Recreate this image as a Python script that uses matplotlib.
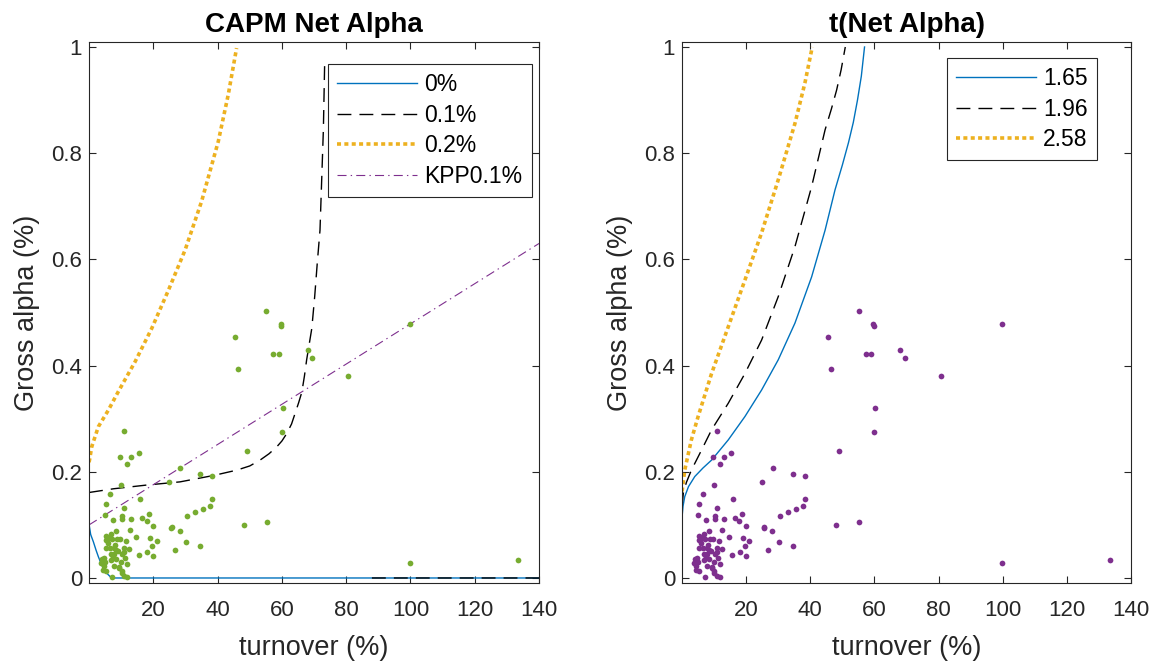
import numpy as np
import matplotlib
matplotlib.use("Agg")
import matplotlib.pyplot as plt

plt.rcParams['font.family'] = ['Liberation Sans', 'DejaVu Sans']
plt.rcParams['lines.scale_dashes'] = False

# ---- scatter data (turnover %, gross alpha %) ----
turnover = [55.1, 59.6, 59.7, 45.4, 57.3, 59.0, 68.1, 69.5, 46.3, 80.7, 60.3, 59.9, 49.0, 99.8, 99.9, 133.3,
            10.9, 9.5, 13.1, 15.4, 11.7, 28.3, 34.5, 38.2, 25.0, 9.9, 6.4, 15.8, 38.3, 5.3, 37.7, 10.8,
            35.4, 33.1, 5.0, 18.6, 30.4, 10.2, 10.3, 13.1, 16.4, 17.9, 7.4, 55.3, 20.0, 48.1, 25.7, 25.5,
            28.2, 12.6, 8.5, 14.7, 19.0, 21.0, 30.3, 34.6, 19.6, 26.8, 15.5, 18.0, 20.0,
            6.7, 5.4, 6.1, 5.4, 7.1, 8.75, 9.6, 11.6, 5.2, 6.5, 7.8, 8.3, 10.8, 12.4, 11.0, 6.7, 7.9,
            7.6, 10.4, 3.96, 4.6, 3.85, 4.9, 6.7, 8.5, 10.0, 11.9, 7.8, 5.4, 4.4, 9.2, 10.1, 7.2, 10.8,
            11.9, 10.1, 9.4, 8.0, 9.0, 6.0, 4.5, 11.2]
gross_alpha = [0.503, 0.478, 0.474, 0.454, 0.421, 0.421, 0.429, 0.414, 0.393, 0.380, 0.320, 0.275, 0.239, 0.478, 0.029, 0.033,
               0.276, 0.227, 0.227, 0.235, 0.215, 0.207, 0.196, 0.192, 0.181, 0.176, 0.158, 0.148, 0.148, 0.139, 0.135, 0.131,
               0.130, 0.124, 0.119, 0.120, 0.116, 0.116, 0.111, 0.111, 0.113, 0.107, 0.109, 0.106, 0.097, 0.099, 0.096, 0.094,
               0.089, 0.090, 0.089, 0.077, 0.076, 0.069, 0.067, 0.060, 0.060, 0.053, 0.044, 0.048, 0.041,
               0.083, 0.079, 0.076, 0.072, 0.074, 0.073, 0.073, 0.070, 0.057, 0.057, 0.056, 0.053, 0.056, 0.054, 0.049, 0.046, 0.046,
               0.040, 0.045, 0.036, 0.038, 0.029, 0.030, 0.034, 0.035, 0.031, 0.026, 0.023, 0.014, 0.015, 0.018, 0.014, 0.0025, 0.004,
               0.0025, 0.009, 0.021, 0.062, 0.050, 0.065, 0.022, 0.038]

# ---- left panel break-even curves ----
net0_x = [0, 0.5, 1.35, 2.2, 2.9, 3.7, 4.45, 5.2, 6.0, 7.0, 140]
net0_y = [0.101, 0.082, 0.068, 0.052, 0.040, 0.028, 0.018, 0.011, 0.006, 0.0, 0.0]

net01_x = [0, 7.6, 17.9, 28.3, 38.7, 45.9, 50, 53.2, 56, 58.4, 60, 61.5, 63, 64.1, 65.2, 66.2, 67.0, 67.7,
           69.3, 70.2, 71.0, 71.85, 72.2, 72.9, 73.3, np.nan, 88, 140]
net01_y = [0.161, 0.168, 0.175, 0.181, 0.193, 0.203, 0.211, 0.222, 0.234, 0.247, 0.258, 0.272, 0.290, 0.310,
           0.330, 0.350, 0.380, 0.411, 0.470, 0.530, 0.593, 0.655, 0.718, 0.844, 0.969, np.nan, 0.0, 0.0]

net02_x = [0, 0.2, 0.83, 2.9, 6.0, 9.1, 14.3, 19.5, 24.7, 29.9, 35.0, 40.2, 43.3, 45.9]
net02_y = [0.218, 0.224, 0.247, 0.285, 0.316, 0.351, 0.407, 0.470, 0.542, 0.618, 0.709, 0.822, 0.910, 0.998]

kpp_x = [0, 140]
kpp_y = [0.1, 0.63]

# ---- right panel t-stat curves ----
t165_x = [0, 0.3, 0.83, 2.0, 3.96, 6.5, 9.2, 14.4, 19.6, 24.8, 30.0, 35.2, 40.4, 44.6, 47.7, 50.0, 51.9,
          53.4, 54.7, 55.9, 56.9]
t165_y = [0.115, 0.135, 0.153, 0.172, 0.191, 0.207, 0.222, 0.260, 0.304, 0.354, 0.411, 0.480, 0.567, 0.655,
          0.731, 0.778, 0.820, 0.858, 0.900, 0.945, 1.0]

t196_x = [0, 0.4, 1.35, 2.9, 6.0, 9.2, 14.4, 19.6, 24.8, 30.0, 35.2, 40.4, 44.6, 46.6, 48.2, 49.6, 50.9]
t196_y = [0.135, 0.160, 0.180, 0.203, 0.240, 0.279, 0.329, 0.385, 0.448, 0.530, 0.624, 0.737, 0.844, 0.884,
          0.919, 0.957, 1.0]

t258_x = [0, 0.83, 2.9, 5.0, 9.2, 14.4, 19.6, 24.8, 30.0, 35.2, 38.3, 40.6]
t258_y = [0.163, 0.203, 0.260, 0.304, 0.385, 0.473, 0.561, 0.650, 0.750, 0.856, 0.932, 1.0]

left_labels = ['0%', '0.1%', '0.2%', 'KPP0.1%']
right_labels = ['1.65', '1.96', '2.58']
xticks = [20, 40, 60, 80, 100, 120, 140]
yticks = [0, 0.2, 0.4, 0.6, 0.8, 1]
ytick_labels = ['0', '0.2', '0.4', '0.6', '0.8', '1']

BLUE = '#0072BD'
ORANGE = '#EDB120'
PURPLE = '#7E2F8E'
GREEN = '#77AC30'
DARK = '#262626'

fig = plt.figure(figsize=(11.58, 6.67), dpi=100)
axL = fig.add_axes([0.0769, 0.1255, 0.3886, 0.812])
axR = fig.add_axes([0.589, 0.1255, 0.3877, 0.812])

dashed = dict(color='black', lw=1.0, dashes=(10, 5.8))
dotted = dict(color=ORANGE, lw=2.6, dashes=(2.9, 2.4))
dashdot = dict(color=PURPLE, lw=0.8, dashes=(6.5, 3, 1, 3))

axL.plot(net0_x, net0_y, color=BLUE, lw=1.0, label=left_labels[0])
axL.plot(net01_x, net01_y, label=left_labels[1], **dashed)
axL.plot(net02_x, net02_y, label=left_labels[2], **dotted)
axL.plot(kpp_x, kpp_y, label=left_labels[3], **dashdot)
axL.scatter(turnover, gross_alpha, s=17, color=GREEN, linewidths=0, zorder=3)

axR.plot(t165_x, t165_y, color=BLUE, lw=1.0, label=right_labels[0])
axR.plot(t196_x, t196_y, label=right_labels[1], **dashed)
axR.plot(t258_x, t258_y, label=right_labels[2], **dotted)
axR.scatter(turnover, gross_alpha, s=17, color=PURPLE, linewidths=0, zorder=3)

for ax, title in ((axL, 'CAPM Net Alpha'), (axR, 't(Net Alpha)')):
    ax.set_xlim(0, 140)
    ax.set_ylim(-0.01, 1.01)
    ax.set_xticks(xticks)
    ax.set_xticklabels([str(t) for t in xticks])
    ax.set_yticks(yticks)
    ax.set_yticklabels(ytick_labels)
    ax.tick_params(direction='in', top=True, right=True, length=5, width=0.8,
                   labelsize=16, colors=DARK, pad=5)
    ax.tick_params(axis='x', pad=12)
    for sp in ax.spines.values():
        sp.set_color(DARK)
        sp.set_linewidth(0.8)
    ax.set_xlabel('turnover (%)', fontsize=19.5, color=DARK, labelpad=10)
    ax.set_ylabel('Gross alpha (%)', fontsize=19.5, color=DARK, labelpad=8)
    ax.set_title(title, fontsize=20, fontweight='bold', color='black', pad=7)

leg_kw = dict(loc='upper left', fontsize=16.5, handlelength=3.5, handletextpad=0.3,
              labelspacing=0.33, borderpad=0.4, borderaxespad=0, fancybox=False,
              framealpha=1, edgecolor=DARK)
legL = axL.legend(bbox_to_anchor=(0.531, 0.959), **leg_kw)
legR = axR.legend(bbox_to_anchor=(0.59, 0.97), **leg_kw)
for leg in (legL, legR):
    leg.get_frame().set_linewidth(0.8)

fig.savefig('out.png', dpi=100)
